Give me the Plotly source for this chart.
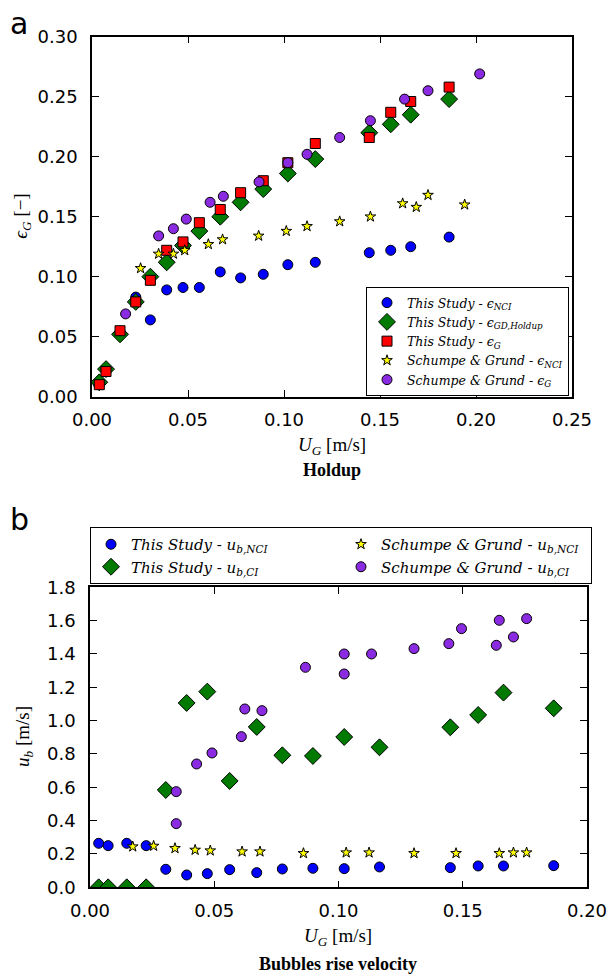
import plotly.graph_objects as go

# ---------------- Holdup (panel a) ----------------
ts_nci_ug = [0.0035, 0.0073, 0.0146, 0.0228, 0.0304, 0.0389, 0.0474, 0.0559, 0.0668,
             0.0774, 0.0892, 0.1020, 0.1163, 0.1444, 0.1556, 0.1660, 0.1860]
ts_nci_eps = [0.010, 0.022, 0.054, 0.083, 0.064, 0.089, 0.091, 0.091, 0.104,
              0.099, 0.102, 0.110, 0.112, 0.120, 0.122, 0.125, 0.133]

ts_gd_ug = [0.0038, 0.0073, 0.0146, 0.0228, 0.0304, 0.0389, 0.0474, 0.0559, 0.0668,
            0.0774, 0.0892, 0.1020, 0.1163, 0.1444, 0.1556, 0.1660, 0.1860]
ts_gd_eps = [0.012, 0.023, 0.052, 0.079, 0.100, 0.112, 0.126, 0.138, 0.150,
             0.162, 0.173, 0.186, 0.198, 0.220, 0.227, 0.235, 0.248]

ts_eg_ug = [0.0038, 0.0073, 0.0146, 0.0228, 0.0304, 0.0389, 0.0474, 0.0559, 0.0668,
            0.0774, 0.0892, 0.1020, 0.1163, 0.1444, 0.1556, 0.1660, 0.1860]
ts_eg_eps = [0.010, 0.021, 0.055, 0.079, 0.097, 0.122, 0.129, 0.145, 0.156,
             0.170, 0.180, 0.195, 0.211, 0.216, 0.237, 0.246, 0.258]

sg_nci_ug = [0.0253, 0.0347, 0.0424, 0.0483, 0.0606, 0.0680, 0.0868, 0.1012, 0.1120,
             0.1290, 0.1450, 0.1618, 0.1689, 0.1750, 0.1941]
sg_nci_eps = [0.107, 0.119, 0.119, 0.122, 0.127, 0.131, 0.134, 0.138, 0.142,
              0.146, 0.150, 0.161, 0.158, 0.168, 0.160]

sg_eg_ug = [0.0175, 0.0347, 0.0424, 0.0491, 0.0615, 0.0684, 0.0870, 0.1020, 0.1120,
            0.1290, 0.1450, 0.1628, 0.1750, 0.2019]
sg_eg_eps = [0.069, 0.134, 0.140, 0.148, 0.162, 0.167, 0.179, 0.195, 0.202,
             0.216, 0.230, 0.248, 0.255, 0.269]

# ---------------- Bubble rise velocity (panel b) ----------------
ts_ub_nci_ug = [0.0035, 0.0073, 0.0148, 0.0226, 0.0305, 0.0389, 0.0472, 0.0562, 0.0671,
                0.0774, 0.0897, 0.1023, 0.1165, 0.1450, 0.1562, 0.1664, 0.1866]
ts_ub_nci = [0.264, 0.250, 0.264, 0.250, 0.108, 0.074, 0.082, 0.106, 0.088,
             0.110, 0.114, 0.112, 0.122, 0.118, 0.128, 0.128, 0.130]

ts_ub_ci_ug = [0.0035, 0.0073, 0.0148, 0.0226, 0.0305, 0.0389, 0.0472, 0.0562, 0.0671,
               0.0774, 0.0897, 0.1023, 0.1165, 0.1450, 0.1562, 0.1664, 0.1866]
ts_ub_ci = [0.0, 0.0, 0.0, 0.0, 0.584, 1.106, 1.174, 0.638, 0.962,
            0.792, 0.788, 0.902, 0.840, 0.960, 1.034, 1.168, 1.074]

sg_ub_nci_ug = [0.0172, 0.0256, 0.0342, 0.0423, 0.0484, 0.0612, 0.0684, 0.0859,
                0.1031, 0.1123, 0.1304, 0.1473, 0.1647, 0.1704, 0.1757]
sg_ub_nci = [0.244, 0.248, 0.234, 0.224, 0.220, 0.214, 0.214, 0.204,
             0.208, 0.208, 0.204, 0.204, 0.204, 0.208, 0.208]

sg_ub_ci_ug = [0.0347, 0.0347, 0.0429, 0.0491, 0.0609, 0.0623, 0.0692, 0.0867, 0.1023,
               0.1023, 0.1133, 0.1304, 0.1444, 0.1495, 0.1635, 0.1647, 0.1704, 0.1757]
sg_ub_ci = [0.382, 0.574, 0.740, 0.806, 0.904, 1.070, 1.060, 1.320, 1.400,
            1.280, 1.400, 1.432, 1.462, 1.552, 1.452, 1.602, 1.502, 1.612]

BLUE = "#0000ff"
GREEN = "#007a00"
RED = "#ff0000"
YELLOW = "#ffff00"
PURPLE = "#8a2be2"

SANS = "DejaVu Sans"
SERIF = "Liberation Serif"
LEGEND_SERIF = "DejaVu Serif"

fig = go.Figure()


def add(x, y, name, color, symbol, size, xa, ya, legend, rank=None):
    fig.add_trace(go.Scatter(
        x=x, y=y, mode="markers", name=name,
        xaxis=xa, yaxis=ya, legend=legend, legendrank=rank if rank else 1000,
        marker=dict(color=color, symbol=symbol, size=size,
                    line=dict(color="black", width=1)),
    ))


# panel a
add(ts_nci_ug, ts_nci_eps, "<i>This Study</i> - <i>ϵ</i><sub><i>NCI</i></sub>",
    BLUE, "circle", 10, "x", "y", "legend")
add(ts_gd_ug, ts_gd_eps, "<i>This Study</i> - <i>ϵ</i><sub><i>GD,Holdup</i></sub>",
    GREEN, "diamond", 13, "x", "y", "legend")
add(ts_eg_ug, ts_eg_eps, "<i>This Study</i> - <i>ϵ</i><sub><i>G</i></sub>",
    RED, "square", 10, "x", "y", "legend")
add(sg_nci_ug, sg_nci_eps, "<i>Schumpe &amp; Grund</i> - <i>ϵ</i><sub><i>NCI</i></sub>",
    YELLOW, "star", 8, "x", "y", "legend")
add(sg_eg_ug, sg_eg_eps, "<i>Schumpe &amp; Grund</i> - <i>ϵ</i><sub><i>G</i></sub>",
    PURPLE, "circle", 10, "x", "y", "legend")

# panel b
add(ts_ub_nci_ug, ts_ub_nci, "<i>This Study</i> - <i>u</i><sub><i>b,NCI</i></sub>",
    BLUE, "circle", 10, "x2", "y2", "legend2", 1)
add(ts_ub_ci_ug, ts_ub_ci, "<i>This Study</i> - <i>u</i><sub><i>b,CI</i></sub>",
    GREEN, "diamond", 13, "x2", "y2", "legend2", 3)
add(sg_ub_nci_ug, sg_ub_nci, "<i>Schumpe &amp; Grund</i> - <i>u</i><sub><i>b,NCI</i></sub>",
    YELLOW, "star", 8, "x2", "y2", "legend2", 2)
add(sg_ub_ci_ug, sg_ub_ci, "<i>Schumpe &amp; Grund</i> - <i>u</i><sub><i>b,CI</i></sub>",
    PURPLE, "circle", 10, "x2", "y2", "legend2", 4)

W, H = 612, 975


def px_x(v):
    return v / W


def px_y(v):
    return 1 - v / H


axis_common = dict(
    showline=True, linecolor="black", linewidth=1.5, mirror="ticks",
    ticks="inside", ticklen=7, tickwidth=1, tickcolor="black",
    showgrid=False, zeroline=False, automargin=False,
    tickfont=dict(family=SANS, size=18, color="black"),
)

fig.update_layout(
    width=W, height=H,
    margin=dict(l=0, r=0, t=0, b=0, autoexpand=False),
    paper_bgcolor="white", plot_bgcolor="white",
    xaxis=dict(domain=[px_x(92), px_x(572)], range=[0, 0.25], dtick=0.05,
               tickformat=".2f", anchor="y", ticklabelstandoff=6, **axis_common),
    yaxis=dict(domain=[px_y(396.7), px_y(36.7)], range=[0, 0.30], dtick=0.05,
               tickformat=".2f", anchor="x", ticklabelstandoff=9, **axis_common),
    xaxis2=dict(domain=[px_x(90), px_x(587)], range=[0, 0.20], dtick=0.05,
                tickformat=".2f", anchor="y2", ticklabelstandoff=6, **axis_common),
    yaxis2=dict(domain=[px_y(887.3), px_y(587.3)], range=[0, 1.8], dtick=0.2,
                tickformat=".1f", anchor="x2", ticklabelstandoff=9, **axis_common),
    legend=dict(
        x=px_x(569), y=px_y(287), xanchor="right", yanchor="top",
        bgcolor="white", bordercolor="black", borderwidth=1,
        font=dict(family=LEGEND_SERIF, size=12.5, color="black"),
        tracegroupgap=0, itemwidth=30,
    ),
    legend2=dict(
        x=px_x(90), y=px_y(527), xanchor="left", yanchor="top",
        orientation="h", entrywidth=205, entrywidthmode="pixels",
        bgcolor="white", bordercolor="black", borderwidth=1,
        font=dict(family=LEGEND_SERIF, size=15, color="black"),
        itemwidth=30,
    ),
    showlegend=True,
)

annots = [
    dict(text="a", x=px_x(8), y=px_y(4), xanchor="left", yanchor="top",
         font=dict(family=SANS, size=30, color="black")),
    dict(text="b", x=px_x(8), y=px_y(500), xanchor="left", yanchor="top",
         font=dict(family=SANS, size=30, color="black")),
    dict(text="<i>ϵ</i><sub><i>G</i></sub> [−]", x=px_x(22), y=px_y(216.7),
         xanchor="center", yanchor="middle", textangle=-90,
         font=dict(family=SERIF, size=19, color="black")),
    dict(text="<i>U</i><sub><i>G</i></sub> [m/s]", x=px_x(332), y=px_y(446),
         xanchor="center", yanchor="middle",
         font=dict(family=SERIF, size=19, color="black")),
    dict(text="<b>Holdup</b>", x=px_x(332), y=px_y(470),
         xanchor="center", yanchor="middle",
         font=dict(family=SERIF, size=18, color="black")),
    dict(text="<i>u</i><sub><i>b</i></sub> [m/s]", x=px_x(24), y=px_y(737),
         xanchor="center", yanchor="middle", textangle=-90,
         font=dict(family=SERIF, size=19, color="black")),
    dict(text="<i>U</i><sub><i>G</i></sub> [m/s]", x=px_x(338), y=px_y(937),
         xanchor="center", yanchor="middle",
         font=dict(family=SERIF, size=19, color="black")),
    dict(text="<b>Bubbles rise velocity</b>", x=px_x(338), y=px_y(964),
         xanchor="center", yanchor="middle",
         font=dict(family=SERIF, size=18, color="black")),
]
for a in annots:
    a.update(xref="paper", yref="paper", showarrow=False)
    fig.add_annotation(**a)

fig.write_html("out.html")
